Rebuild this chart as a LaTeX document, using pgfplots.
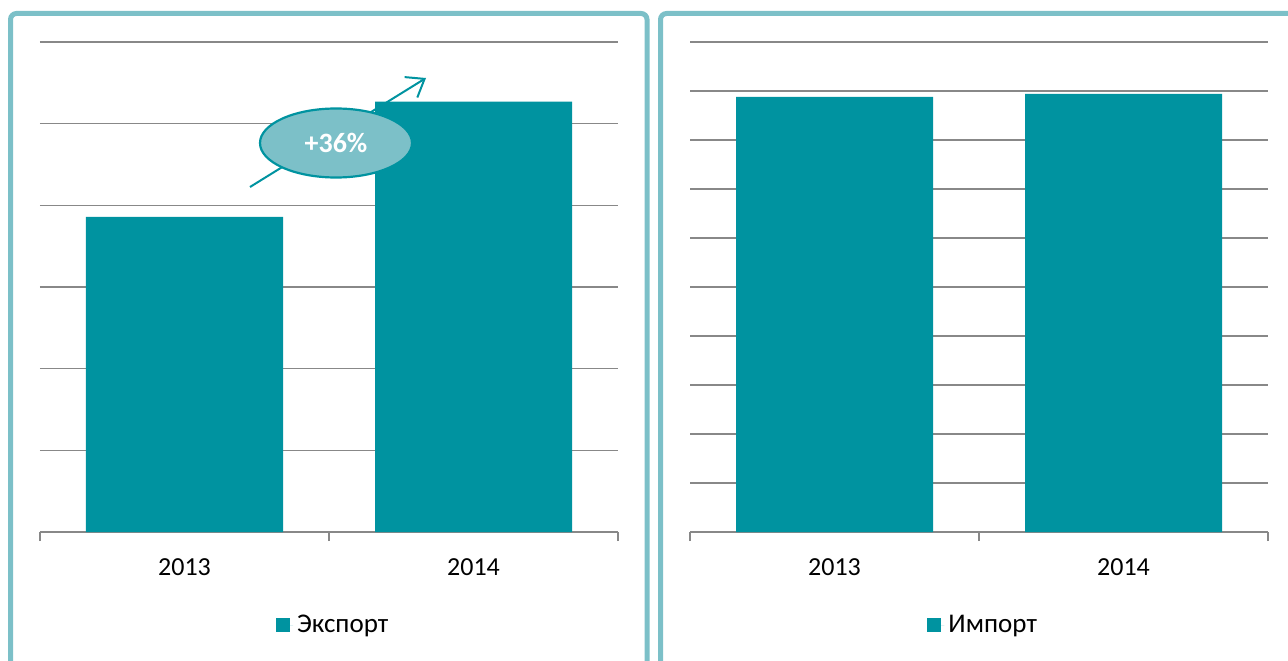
\documentclass[border=0pt]{standalone}
\usepackage{fontspec}
\setmainfont{Carlito}
\usepackage{pgfplots}
\pgfplotsset{compat=1.18}
\usetikzlibrary{arrows.meta}
\definecolor{barc}{HTML}{0093A0}
\definecolor{frame}{HTML}{7CC0C8}
\definecolor{gridc}{HTML}{888888}
\pgfplotsset{
  panel/.style={
    scale only axis, width=289pt, height=245pt,
    anchor=south west,
    xmin=0.5, xmax=2.5, ymin=0,
    xtick={1,2}, xticklabels={2013,2014},
    minor xtick={0.5,1.5,2.5},
    major tick length=0pt, minor tick length=4.5pt,
    xtick align=outside, xtick pos=lower,
    tick style={draw=gridc, line width=0.7pt},
    axis line style={draw=none},
    ytick style={draw=none}, yticklabels={},
    ymajorgrids, grid style={draw=gridc, line width=0.75pt},
    xticklabel style={font=\fontsize{13}{15}\selectfont, anchor=center, yshift=-17.5pt},
    /pgf/number format/assume math mode=true,
    ybar, bar width=98.5pt,
    legend style={draw=none, at={(0.509,-0.19)}, anchor=center, legend columns=-1,
      font=\fontsize{13.5}{15}\selectfont, inner sep=0pt},
    legend image code/.code={\fill[barc] (0pt,-3.5pt) rectangle (7pt,3.5pt); \path (0pt,0pt) -- (8.5pt,0pt);},
  }
}
\begin{document}
\begin{tikzpicture}
\useasboundingbox (0pt,0pt) rectangle (644pt,330pt);
\begin{scope}
\clip (0pt,0pt) rectangle (644pt,330pt);
\draw[frame, line width=2.5pt, rounded corners=3pt] (5.25pt,-10pt) -- (5.25pt,323.25pt) -- (323.5pt,323.25pt) -- (323.5pt,-10pt);
\draw[frame, line width=2.5pt, rounded corners=3pt] (330.25pt,-10pt) -- (330.25pt,323.25pt) -- (650pt,323.25pt);
\end{scope}
\begin{axis}[panel, at={(20pt,64pt)}, ymax=6, ytick={0,1,...,6}]
\addplot[fill=barc, draw=none] coordinates {(1,3.86) (2,5.27)};
\addlegendentry{Экспорт}
\end{axis}
\begin{axis}[panel, at={(345pt,64pt)}, ymax=10, ytick={0,1,...,10}]
\addplot[fill=barc, draw=none] coordinates {(1,8.88) (2,8.94)};
\addlegendentry{Импорт}
\end{axis}
\draw[barc, line width=1pt, -{Straight Barb[length=8pt,width=12pt,line width=1pt]}] (125pt,236.5pt) -- (213pt,291pt);
\draw[barc, fill=frame, line width=1.1pt] (168pt,258.5pt) ellipse [x radius=38pt, y radius=17.25pt];
\node[white, font=\bfseries\fontsize{14}{16}\selectfont] at (168pt,258.5pt) {+36\%};
\end{tikzpicture}
\end{document}
